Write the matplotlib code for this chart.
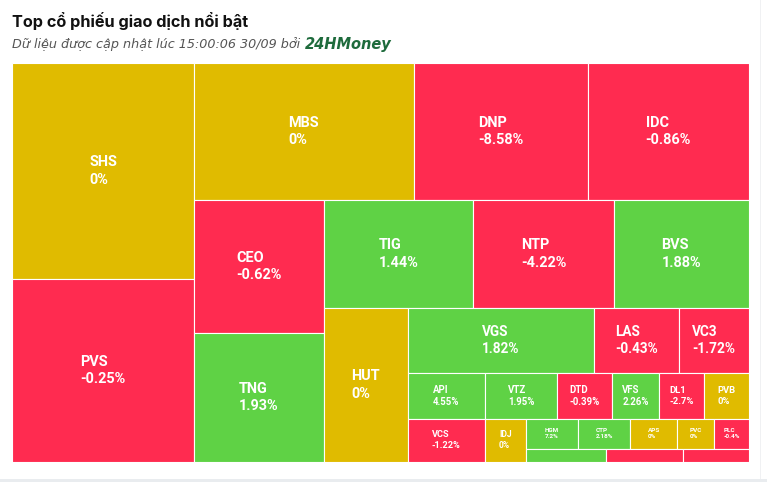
import matplotlib
matplotlib.use("Agg")
import matplotlib.pyplot as plt
from matplotlib.patches import Rectangle

# du lieu: ma co phieu, gia tri giao dich (uoc luong), % thay doi gia
tickers = ["SHS", "PVS", "MBS", "DNP", "IDC", "CEO", "TNG", "TIG", "NTP", "BVS",
           "HUT", "VGS", "LAS", "VC3", "API", "VCS", "VTZ", "DTD", "VFS", "DL1",
           "PVB", "IDJ", "HGM", "CTP", "APS", "PVC", "PLC", "", "", ""]
values = [39.3, 33.3, 30.1, 23.8, 22.1, 17.3, 16.8, 16.1, 15.2, 14.6,
          12.9, 12.1, 5.5, 4.55, 3.54, 3.35, 3.31, 2.53, 2.16, 2.07,
          2.06, 1.76, 1.60, 1.58, 1.43, 1.12, 1.05, 1.04, 0.99, 0.86]
changes = [0, -0.25, 0, -8.58, -0.86, -0.62, 1.93, 1.44, -4.22, 1.88,
           0, 1.82, -0.43, -1.72, 4.55, -1.22, 1.95, -0.39, 2.26, -2.7,
           0, 0, 7.2, 2.18, 0, 0, -0.4, 1.0, -1.0, -1.0]

UP = "#5fd245"
DOWN = "#ff2b50"
FLAT = "#e0bb00"

W, H = 737, 399  # kich thuoc vung treemap (px)


def squarify(vals, x, y, w, h):
    # squarified, doi huong sau moi nhom (bat dau bang cot doc)
    total = sum(vals)
    areas = [v / total * w * h for v in vals]
    rects = []
    vertical = True

    def ratio(a, s, side):
        t = s / side
        l = a / t
        return max(t / l, l / t)

    i = 0
    while i < len(areas):
        side = h if vertical else w
        group = [areas[i]]
        i += 1
        while i < len(areas):
            last = group[-1]
            if ratio(last, sum(group) + areas[i], side) > ratio(last, sum(group), side):
                break
            group.append(areas[i])
            i += 1
        thick = sum(group) / side
        pos = y if vertical else x
        for a in group:
            l = a / thick
            if vertical:
                rects.append((x, pos, thick, l))
            else:
                rects.append((pos, y, l, thick))
            pos += l
        if vertical:
            x += thick
            w -= thick
        else:
            y += thick
            h -= thick
        vertical = not vertical
    return rects


fig = plt.figure(figsize=(7.67, 4.82), dpi=100)
ax = fig.add_axes([12 / 767, 20 / 482, W / 767, H / 482])
ax.set_xlim(0, W)
ax.set_ylim(H, 0)
ax.axis("off")

for (x, y, w, h), name, chg in zip(squarify(values, 0, 0, W, H), tickers, changes):
    color = UP if chg > 0 else (DOWN if chg < 0 else FLAT)
    ax.add_patch(Rectangle((x, y), w, h, facecolor=color, edgecolor="white", linewidth=0.8))
    side = min(w, h)
    if name and side > 20:
        fs = min(14.5, 0.21 * side) * 0.72
        ax.text(x + w / 2, y + h / 2, f"{name}\n{chg:g}%", ha="center", va="center",
                multialignment="left", color="white", fontsize=fs, fontweight="bold",
                family="Roboto", linespacing=1.3)

# tieu de
fig.text(12 / 767, 1 - 21 / 482, "Top cổ phiếu giao dịch nổi bật", fontsize=11.7,
         fontweight="bold", family="Inter", color="#111111", va="center")
sub = fig.text(12 / 767, 1 - 44 / 482, "Dữ liệu được cập nhật lúc 15:00:06 30/09 bởi",
               fontsize=9.2, style="italic", family="DejaVu Sans", color="#555555", va="center")
r = fig.canvas.get_renderer()
bb = sub.get_window_extent(r)
fig.text((bb.x1 + 5) / 767, 1 - 44 / 482, "24HMoney", fontsize=10.5, style="italic",
         fontweight="bold", family="DejaVu Sans", color="#1e6b3c", va="center")

# vien xam phia duoi
fig.patches.append(Rectangle((0, 0), 1, 3 / 482, transform=fig.transFigure,
                             facecolor="#e9ecef", edgecolor="none"))
fig.patches.append(Rectangle((760 / 767, 3 / 482), 1 / 767, 1, transform=fig.transFigure,
                             facecolor="#f0f1f3", edgecolor="none"))

fig.savefig("out.png", dpi=100)
